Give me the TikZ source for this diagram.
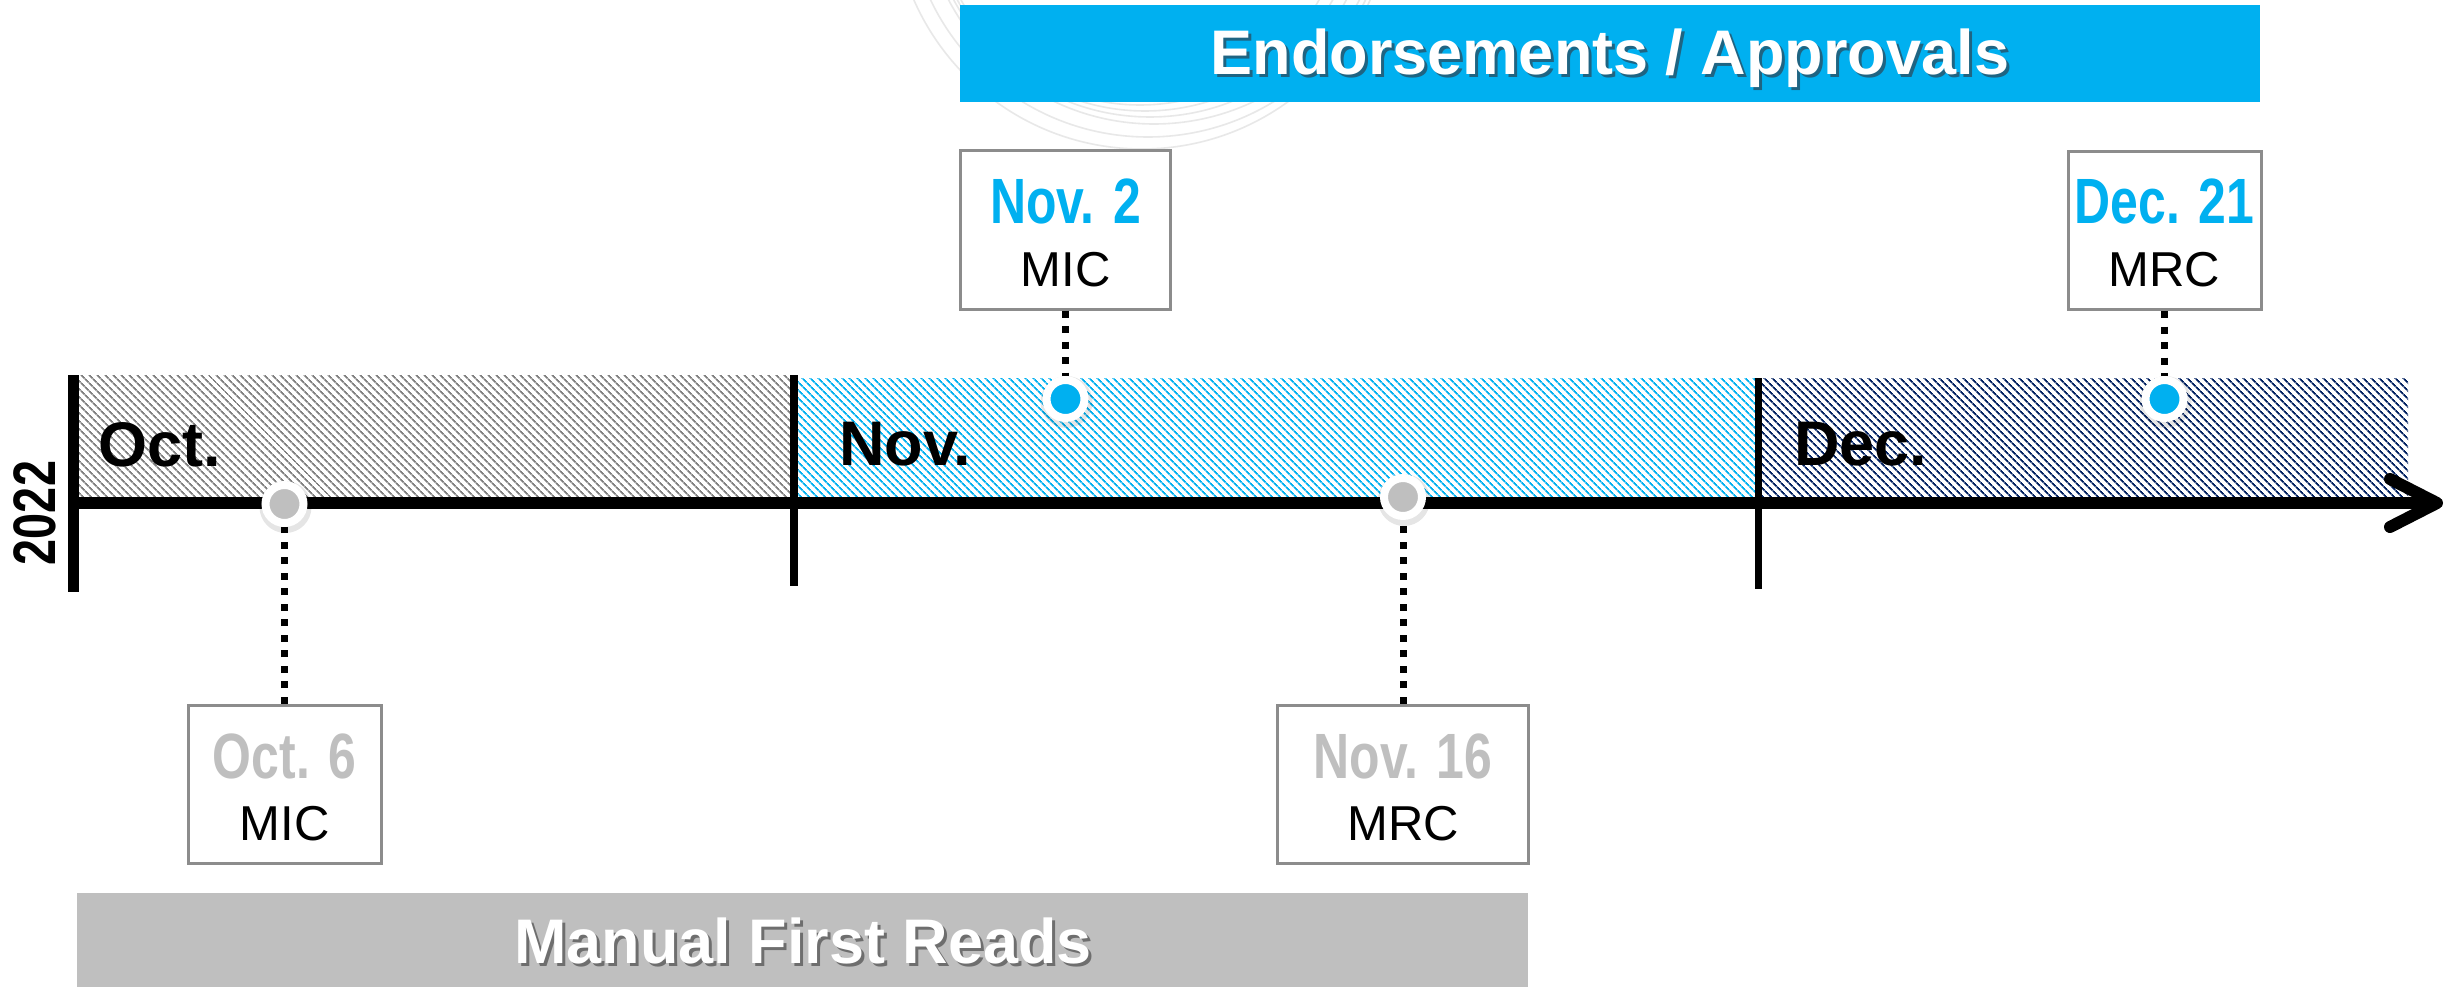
\documentclass[tikz,border=0pt]{standalone}
\usepackage{fontspec}
\setmainfont{Liberation Sans}
\newfontfamily\narrowfont{Liberation Sans}[FakeStretch=0.78]
\usetikzlibrary{patterns.meta,calc}
\definecolor{cblue}{HTML}{00B0F0}
\definecolor{cgray}{HTML}{BFBFBF}
\definecolor{cnavy}{HTML}{002060}
\definecolor{hatchgray}{HTML}{808080}
\definecolor{boxgray}{HTML}{8C8C8C}
\definecolor{shblue}{HTML}{1F6482}
\definecolor{shgray}{HTML}{6E6E6E}
\definecolor{wmgray}{HTML}{E8E8E8}
\begin{document}
\begin{tikzpicture}[x=1pt,y=-1pt,
  datebox/.style={draw=boxgray, line width=3pt, fill=white, minimum height=158pt, inner sep=0pt},
  datetxt/.style={font=\narrowfont\bfseries\fontsize{64}{70}\selectfont, anchor=base, inner sep=0pt},
  labtxt/.style={font=\fontsize{49}{56}\selectfont, text=black, anchor=base, inner sep=0pt},
  dotnode/.style={circle, draw=white, line width=8pt, minimum size=38pt, inner sep=0pt},
  dotline/.style={line width=7pt, dash pattern=on 7pt off 8.5pt, black},
  monthtxt/.style={font=\bfseries\fontsize{63}{70}\selectfont, anchor=base west, inner sep=0pt},
  bantxt/.style={font=\bfseries\fontsize{63}{70}\selectfont, anchor=base, inner sep=0pt},
  banner/.style={inner sep=0pt, draw=none},
  tick/.style={black, line cap=butt},
  wm/.style={draw=wmgray, line width=1.6pt},
  hatch/.style={pattern={Lines[angle=-45,distance=5.4pt,line width=2pt]}}
]
\useasboundingbox (0,0) rectangle (2450,987);
\fill[white] (0,0) rectangle (2450,987);

% faint watermark arcs
\begin{scope}
\clip (0,0) rectangle (2450,987);
\foreach \dx/\dy/\r in {0/0/205, 5/-3/214, 10/-6/223, 14/-8/232, 8/-4/241, 2/0/249}
  \draw[wm] (1140+\dx,-100+\dy) circle[radius=\r];
\end{scope}

% banners
\node[banner, fill=cblue, minimum width=1300pt, minimum height=97pt] (endban) at (1610,53.5) {};
\node[bantxt, text=shblue] (endsh) at (1613,78) {Endorsements / Approvals};
\node[bantxt, text=white] (endtxt) at (1610,75) {Endorsements / Approvals};

\node[banner, fill=cgray, minimum width=1451pt, minimum height=104pt] (manban) at (802.5,945) {};
\node[bantxt, text=shgray] (mansh) at (806,966) {Manual First Reads};
\node[bantxt, text=white] (mantxt) at (803,963) {Manual First Reads};

% hatched month bands
\fill[hatch, pattern color=hatchgray] (78,375) rectangle (794,500);
\fill[hatch, pattern color=cblue] (794,378) rectangle (1758,500);
\fill[hatch, pattern color=cnavy] (1758,378) rectangle (2408,500);

% month labels
\node[monthtxt] (oct) at (98,466) {Oct.};
\node[monthtxt] (nov) at (839,465) {Nov.};
\node[monthtxt] (dec) at (1794,465) {Dec.};

% year
\node[font=\narrowfont\bfseries\fontsize{60}{66}\selectfont, rotate=90, inner sep=0pt] (year) at (35,513) {2022};

% ticks and axis
\draw[tick, line width=11pt] (73,375) -- (73,592);
\draw[tick, line width=8pt] (794,375) -- (794,586);
\draw[tick, line width=7pt] (1758,378) -- (1758,589);
\draw[black, line width=12pt] (68,503) -- (2430,503);
\coordinate (tip) at (2437,503);
\draw[black, line width=12pt, line cap=round, line join=round] (2390,479) -- (tip) -- (2390,527);

% date boxes
\node[datebox, minimum width=193pt] (b1) at (284.5,784) {};
\node[datetxt, text=cgray] (b1d) at (284.5,778) {Oct. 6};
\node[labtxt] (b1l) at (284.5,840) {MIC};

\node[datebox, minimum width=210pt] (b2) at (1065.5,230) {};
\node[datetxt, text=cblue] (b2d) at (1065.5,224) {Nov. 2};
\node[labtxt] (b2l) at (1065.5,286) {MIC};

\node[datebox, minimum width=251pt] (b3) at (1403,784) {};
\node[datetxt, text=cgray] (b3d) at (1403,778) {Nov. 16};
\node[labtxt] (b3l) at (1403,840) {MRC};

\node[datebox, minimum width=193pt] (b4) at (2164.5,230.5) {};
\node[datetxt, text=cblue] (b4d) at (2164.5,224) {Dec. 21};
\node[labtxt] (b4l) at (2164.5,287) {MRC};

% dot shadows
\foreach \x/\y in {284.5/504, 1065.5/399, 1403/497, 2164.5/399}
  \fill[black, opacity=0.10] (\x+1,\y+3) circle[radius=26];

% dots
\node[dotnode, fill=cgray] (n1) at (284.5,504) {};
\node[dotnode, fill=cblue] (n2) at (1065.5,399) {};
\node[dotnode, fill=cgray] (n3) at (1403,497) {};
\node[dotnode, fill=cblue] (n4) at (2164.5,399) {};

% connectors
\draw[dotline] (b1) -- (n1);
\draw[dotline] (b2) -- (n2);
\draw[dotline] (b3) -- (n3);
\draw[dotline] (b4) -- (n4);
\end{tikzpicture}
\end{document}
